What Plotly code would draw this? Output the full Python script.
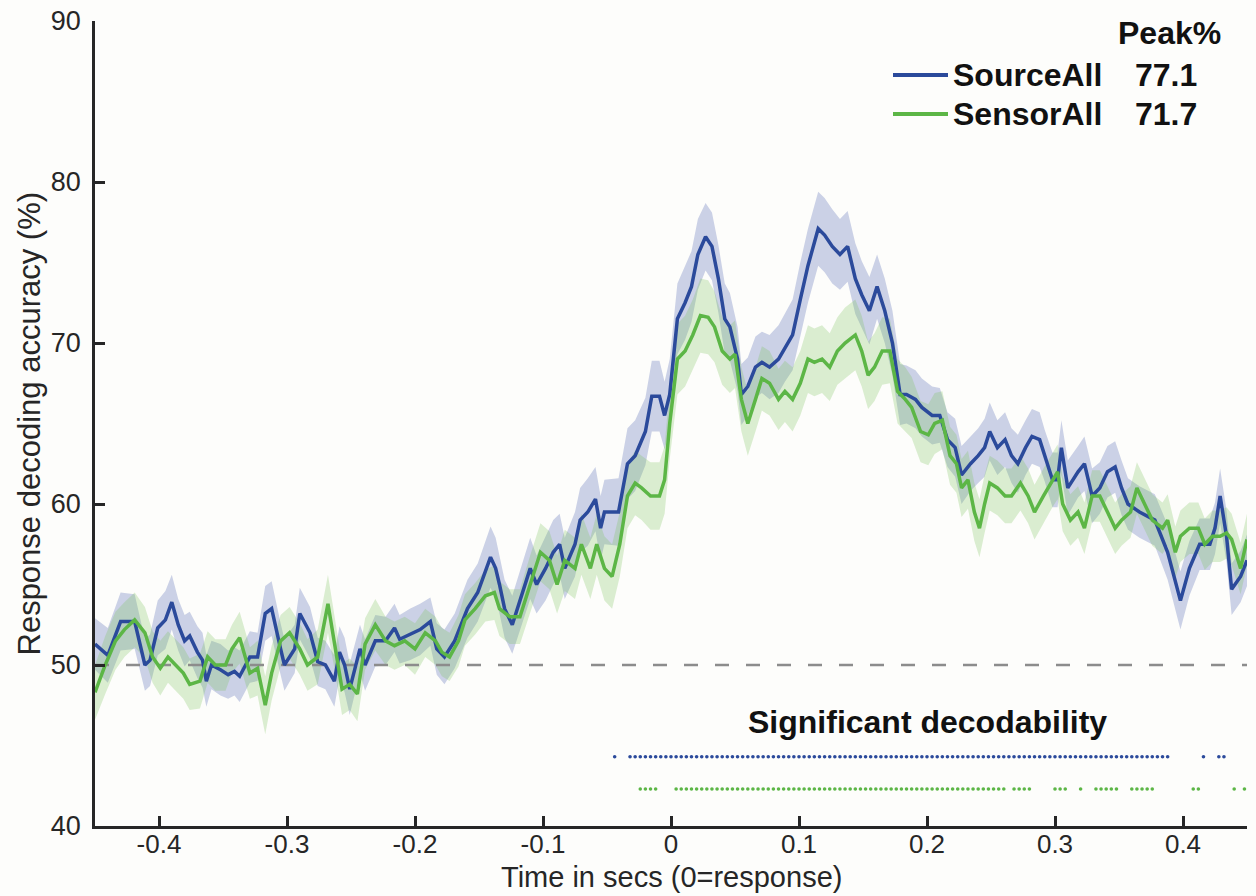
import numpy as np
import plotly.graph_objects as go

# ---------------- data ----------------
source_t_ms = [-450,-440,-430,-419,-411,-407,-401,-395,-390,-385,
               -380,-376,-370,-366,-363,-359,-352,-346,-341,-337,
               -329,-323,-317,-312,-305,-302,-294,-290,-282,-276,
               -270,-263,-259,-255,-251,-243,-239,-231,-223,-216,
               -212,-204,-196,-188,-183,-177,-169,-159,-151,-141,
               -137,-134,-130,-124,-116,-110,-105,-98,-92,-87,
               -83,-75,-71,-65,-59,-55,-52,-41,-34,-28,
               -20,-15,-9,-5,-1,5,11,16,21,27,
               32,37,42,46,52,55,60,66,71,77,
               84,89,95,101,107,115,120,126,132,138,
               144,149,155,161,167,173,179,184,191,196,
               204,210,216,222,227,234,240,245,249,255,
               261,266,271,277,282,288,292,298,302,305,
               310,318,323,329,335,341,347,352,357,366,
               378,388,398,405,413,421,425,429,434,438,
               445,450]
source_acc = [51.3,50.6,52.7,52.7,50.0,50.3,52.3,52.8,53.9,52.5,
              51.5,51.8,50.8,50.3,49.0,50.0,49.7,49.4,49.6,49.3,
              50.5,50.5,53.2,53.5,51.0,50.0,51.0,53.2,52.0,50.2,
              50.0,49.0,50.8,50.0,48.5,51.0,50.0,51.5,51.5,52.3,
              51.6,51.9,52.2,52.7,51.0,50.5,51.5,53.5,54.5,56.7,
              56.0,55.0,53.5,52.5,54.5,56.0,55.0,56.0,57.0,57.5,
              56.0,57.5,59.0,59.5,60.3,58.5,59.5,59.5,62.5,63.0,
              64.5,66.7,66.7,65.5,66.8,71.5,72.5,73.5,75.5,76.6,
              76.0,74.0,71.5,71.0,69.0,66.8,67.3,68.5,68.8,68.5,
              69.0,69.7,70.5,72.7,74.8,77.1,76.7,76.0,75.5,76.0,
              74.0,73.0,72.0,73.5,72.0,70.0,66.8,66.8,66.5,66.0,
              65.5,65.5,64.0,63.5,61.8,62.5,63.0,63.5,64.5,63.5,
              64.0,63.0,62.5,63.5,64.2,64.0,63.0,61.5,61.5,63.5,
              61.0,62.0,62.5,60.5,61.0,62.0,62.3,61.0,60.0,59.5,
              59.0,57.0,54.0,56.0,57.5,57.5,58.5,60.5,58.0,54.7,
              55.5,56.5]
source_sem = [1.6,1.7,1.8,1.7,1.6,1.6,1.7,1.8,1.7,1.6,
              1.6,1.5,1.6,1.7,1.6,1.5,1.6,1.5,1.5,1.6,
              1.6,1.5,1.7,1.7,1.6,1.6,1.5,1.6,1.6,1.5,
              1.5,1.6,1.6,1.7,1.6,1.5,1.6,1.6,1.5,1.5,
              1.5,1.6,1.6,1.5,1.6,1.7,1.7,1.8,1.8,1.9,
              1.9,1.8,1.8,1.8,1.9,1.9,1.8,2.0,2.0,1.9,
              1.9,2.0,2.0,2.1,2.0,2.0,2.0,2.1,2.2,2.2,
              2.1,2.2,2.2,2.1,2.2,2.2,2.3,2.2,2.2,2.1,
              2.1,2.1,2.2,2.1,2.0,1.9,1.8,1.9,1.9,2.0,
              2.1,2.1,2.2,2.3,2.3,2.3,2.3,2.3,2.2,2.2,
              2.2,2.1,2.1,2.0,2.0,2.0,1.9,1.8,1.8,1.8,
              1.8,1.7,1.7,1.8,1.8,1.7,1.7,1.8,1.8,1.7,
              1.7,1.7,1.8,1.7,1.7,1.7,1.6,1.7,1.7,1.7,
              1.7,1.6,1.7,1.7,1.6,1.6,1.6,1.7,1.6,1.6,
              1.6,1.7,1.8,1.7,1.6,1.6,1.6,1.7,1.6,1.6,
              1.6,1.6]

sensor_t_ms = [-450,-442,-434,-427,-419,-411,-405,-399,-393,-387,
               -381,-376,-368,-362,-356,-348,-343,-337,-329,-323,
               -317,-312,-305,-298,-290,-284,-276,-268,-263,-257,
               -251,-245,-239,-231,-223,-216,-208,-200,-192,-184,
               -179,-173,-166,-161,-153,-145,-138,-134,-126,-118,
               -110,-102,-95,-89,-83,-75,-70,-63,-58,-52,
               -46,-40,-34,-28,-23,-16,-9,-5,-1,5,
               11,17,23,29,34,40,46,50,55,60,
               66,71,77,84,89,95,101,107,112,118,
               124,130,136,144,149,154,159,165,171,177,
               183,188,195,201,206,212,218,223,227,232,
               237,241,245,249,255,261,266,273,279,284,
               291,298,302,306,312,318,323,329,335,341,
               347,352,359,364,370,376,384,388,394,398,
               405,412,417,423,429,434,438,445,450]
sensor_acc = [48.3,50.0,51.5,52.2,52.8,52.0,50.5,49.8,50.5,50.0,
              49.5,48.8,49.0,50.5,50.0,50.0,51.0,51.7,49.5,49.8,
              47.5,49.5,51.5,52.0,51.0,50.0,50.5,53.8,51.5,48.5,
              48.8,48.2,51.3,52.5,51.5,51.2,51.5,51.0,52.0,51.5,
              50.8,50.5,51.5,52.8,53.5,54.3,54.5,53.5,53.0,53.0,
              55.0,57.0,56.5,55.0,56.5,56.0,57.5,56.0,57.5,56.0,
              55.5,57.5,60.5,61.3,61.0,60.5,60.5,61.5,65.0,69.0,
              69.5,70.5,71.7,71.6,71.0,69.5,69.0,69.3,66.5,65.0,
              66.5,67.8,67.5,66.5,67.0,66.5,67.5,69.0,68.8,69.0,
              68.5,69.5,70.0,70.5,69.5,68.0,68.5,69.5,69.5,67.0,
              66.5,66.0,64.5,64.3,65.0,65.2,63.0,62.5,61.0,61.5,
              59.5,58.5,60.0,61.3,61.0,60.5,60.5,61.3,60.5,59.5,
              60.5,61.5,62.0,60.0,59.0,59.5,58.5,60.5,60.5,59.5,
              58.5,59.0,59.5,61.0,60.0,59.0,58.5,59.0,57.0,58.0,
              58.5,58.5,57.5,58.0,58.0,58.2,57.8,56.0,57.8]
sensor_sem = [1.7,1.8,1.8,1.7,1.7,1.6,1.6,1.7,1.6,1.6,
              1.6,1.6,1.7,1.6,1.6,1.6,1.5,1.6,1.6,1.7,
              1.8,1.7,1.6,1.6,1.6,1.6,1.7,1.8,1.7,1.6,
              1.6,1.7,1.6,1.6,1.5,1.5,1.5,1.6,1.5,1.5,
              1.5,1.5,1.6,1.6,1.6,1.6,1.7,1.7,1.7,1.7,
              1.8,1.8,1.8,1.8,1.9,1.9,1.9,1.9,1.9,2.0,
              2.0,2.0,2.0,2.0,2.0,2.1,2.1,2.1,2.2,2.2,
              2.2,2.2,2.3,2.3,2.2,2.1,2.1,2.1,2.0,2.0,
              2.0,2.0,2.0,1.9,1.9,2.0,2.0,2.1,2.1,2.1,
              2.1,2.1,2.2,2.2,2.2,2.1,2.1,2.1,2.0,2.0,
              2.0,1.9,1.9,1.9,1.9,1.8,1.8,1.8,1.8,1.8,
              1.8,1.8,1.8,1.7,1.7,1.7,1.7,1.7,1.7,1.7,
              1.7,1.7,1.7,1.7,1.6,1.6,1.6,1.6,1.6,1.6,
              1.6,1.6,1.6,1.6,1.6,1.6,1.6,1.6,1.6,1.6,
              1.6,1.6,1.6,1.6,1.6,1.6,1.6,1.6,1.6]

# significant time windows (start, end) in seconds, sampled every 4 ms
sample_step = 0.004
source_sig_runs = [(-0.044, -0.044), (-0.032, 0.388), (0.416, 0.416), (0.428, 0.432)]
sensor_sig_runs = [(-0.024, -0.012), (0.004, 0.260), (0.268, 0.280), (0.300, 0.308),
                   (0.320, 0.320), (0.332, 0.348), (0.360, 0.376), (0.408, 0.412),
                   (0.440, 0.440), (0.448, 0.448)]
source_sig_level = 44.3
sensor_sig_level = 42.3
chance_level = 50

x_ticks = [-0.4, -0.3, -0.2, -0.1, 0, 0.1, 0.2, 0.3, 0.4]
x_tick_labels = ["-0.4", "-0.3", "-0.2", "-0.1", "0", "0.1", "0.2", "0.3", "0.4"]
y_ticks = [40, 50, 60, 70, 80, 90]
series_names = ["SourceAll", "SensorAll"]

# ---------------- styling ----------------
BLUE = "#2b4a9b"
GREEN = "#5cb646"
BLUE_FILL = "rgba(60,85,170,0.26)"
GREEN_FILL = "rgba(120,195,85,0.26)"
AX = "#262626"
BG = "#fdfdfb"
FONT = "Liberation Sans, Arial, sans-serif"

W, H = 1256, 896
L, R, T, B = 95, 9, 21, 70
PW, PH = W - L - R, H - T - B

def px2paper(px, py):
    return (px - L) / PW, (H - B - py) / PH

def expand(runs):
    out = []
    for a, b in runs:
        n = int(round((b - a) / sample_step)) + 1
        out.extend([round(a + i * sample_step, 3) for i in range(n)])
    return out

fig = go.Figure()

series = [
    (source_t_ms, source_acc, source_sem, BLUE, BLUE_FILL),
    (sensor_t_ms, sensor_acc, sensor_sem, GREEN, GREEN_FILL),
]
for t_ms, acc, sem, col, fill in series:
    t = np.array(t_ms) / 1000.0
    a = np.array(acc)
    s = np.array(sem)
    fig.add_trace(go.Scatter(
        x=np.concatenate([t, t[::-1]]),
        y=np.concatenate([a + s, (a - s)[::-1]]),
        fill="toself", fillcolor=fill, line=dict(width=0),
        mode="lines", hoverinfo="skip", showlegend=False))

# chance line
fig.add_trace(go.Scatter(x=[-0.45, 0.45], y=[chance_level, chance_level], mode="lines",
                         line=dict(color="#8c8c8c", width=2.5, dash="14px,17px"),
                         showlegend=False, hoverinfo="skip"))

for (t_ms, acc, sem, col, fill), name in zip(series, series_names):
    fig.add_trace(go.Scatter(x=np.array(t_ms) / 1000.0, y=acc, mode="lines", name=name,
                             line=dict(color=col, width=3.5), showlegend=False))

# significance dots
for runs, lvl, col in [(source_sig_runs, source_sig_level, BLUE),
                       (sensor_sig_runs, sensor_sig_level, GREEN)]:
    xs = expand(runs)
    fig.add_trace(go.Scatter(x=xs, y=[lvl] * len(xs), mode="markers",
                             marker=dict(color=col, size=3.6, line=dict(width=0)),
                             showlegend=False, hoverinfo="skip"))

LEG_SIZE = 32
annotations = []
shapes = []
# legend block
lx0, lx1 = px2paper(893, 0)[0], px2paper(948, 0)[0]
text_x = px2paper(951, 0)[0]
val_x = px2paper(1199, 0)[0]
peak_x = px2paper(1223, 0)[0]
annotations.append(dict(xref="paper", yref="paper", x=peak_x, y=px2paper(0, 33)[1],
                        text="<b>Peak%</b>", showarrow=False, xanchor="right", yanchor="middle",
                        font=dict(family=FONT, size=LEG_SIZE, color="#111111")))
for (t_ms, acc, sem, col, fill), name, py in zip(series, series_names, [75, 114]):
    yp = px2paper(0, py)[1]
    shapes.append(dict(type="line", xref="paper", yref="paper", x0=lx0, x1=lx1, y0=yp, y1=yp,
                       line=dict(color=col, width=4)))
    annotations.append(dict(xref="paper", yref="paper", x=text_x, y=yp, text=f"<b>{name}</b>",
                            showarrow=False, xanchor="left", yanchor="middle",
                            font=dict(family=FONT, size=LEG_SIZE, color="#111111")))
    annotations.append(dict(xref="paper", yref="paper", x=val_x, y=yp,
                            text=f"<b>{max(acc):.1f}</b>",
                            showarrow=False, xanchor="right", yanchor="middle",
                            font=dict(family=FONT, size=LEG_SIZE, color="#111111")))

annotations.append(dict(xref="x", yref="y", x=0.2, y=46.45, text="<b>Significant decodability</b>",
                        showarrow=False, xanchor="center", yanchor="middle",
                        font=dict(family=FONT, size=32, color="#111111")))
# axis titles
annotations.append(dict(xref="paper", yref="paper", x=0.5, y=0, yshift=-51,
                        text="Time in secs (0=response)", showarrow=False,
                        xanchor="center", yanchor="middle",
                        font=dict(family=FONT, size=29, color=AX)))
annotations.append(dict(xref="paper", yref="paper", x=0, y=0.5, xshift=-66,
                        text="Response decoding accuracy (%)", showarrow=False, textangle=-90,
                        xanchor="center", yanchor="middle",
                        font=dict(family=FONT, size=31, color=AX)))

fig.update_layout(
    width=W, height=H,
    margin=dict(l=L, r=R, t=T, b=B),
    paper_bgcolor=BG, plot_bgcolor=BG,
    showlegend=False,
    annotations=annotations, shapes=shapes,
    xaxis=dict(range=[-0.45, 0.45], tickvals=x_ticks, ticktext=x_tick_labels,
               showline=True, linecolor=AX, linewidth=2.5, mirror=False,
               ticks="inside", ticklen=10, tickwidth=2.5, tickcolor=AX,
               showgrid=False, zeroline=False, ticklabelstandoff=-7,
               tickfont=dict(family=FONT, size=26, color=AX), automargin=False),
    yaxis=dict(range=[40, 90], tickvals=y_ticks,
               showline=True, linecolor=AX, linewidth=2.5, mirror=False,
               ticks="inside", ticklen=10, tickwidth=2.5, tickcolor=AX,
               showgrid=False, zeroline=False, ticklabelstandoff=6,
               tickfont=dict(family=FONT, size=27, color=AX), automargin=False),
)

fig.write_html("out.html")
